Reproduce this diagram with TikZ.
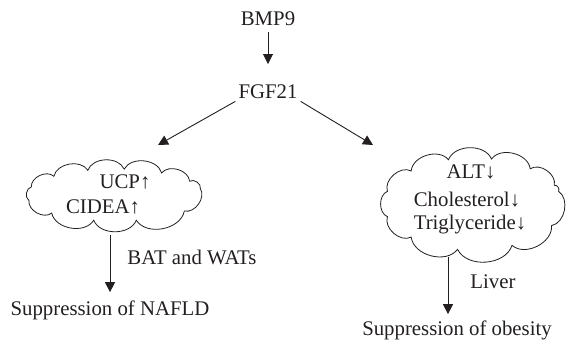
\documentclass[tikz,border=0pt]{standalone}
\usepackage{fontspec}
\setmainfont{Liberation Serif}
\usepackage{tikz}
\usetikzlibrary{arrows.meta, positioning, calc}
\definecolor{ink}{RGB}{35, 31, 32}
% puffy outline: centre, x radius, y radius, cusp angles (first one repeated +360 at the end)
\newcommand{\cloudoutline}[4]{%
  \begin{scope}[shift={#1}]
    \draw[ink, line width=0.8pt]
      \foreach \a [count=\i] in {#4} {
        \ifnum\i=1 (\a:#2 and #3) \else to[bend left=68] (\a:#2 and #3) \fi
      };
  \end{scope}}

\begin{document}
\begin{tikzpicture}[x=1pt, y=-1pt, >={Triangle[length=10pt, width=10pt]},
    txt/.style={ink, anchor=base, inner sep=3pt,
      font=\fontsize{20.8}{24}\selectfont},
    area/.style={inner sep=0pt},
    conn/.style={->, ink, line width=0.9pt}]
  \useasboundingbox (0,0) rectangle (567,343);
  % ── Top chain ──
  \node[txt] (bmp) at (268,25) {BMP9};
  \node[txt] (fgf) at (268,98) {FGF21};
  \draw[conn, shorten <=4pt, shorten >=17pt] (bmp) -- (fgf);
  % ── Branch tips ──
  \coordinate (ltip) at (158,145);
  \coordinate (rtip) at (373,145);
  \draw[conn] (fgf.south west) -- (ltip);
  \draw[conn] (fgf.south east) -- (rtip);
  % ── Left cloud ──
  \node[area, minimum width=185pt, minimum height=66pt] (lcloud) at (115,195) {};
  \cloudoutline{(115,195)}{88}{26}{-14,38,76,104,136,168,198,226,252,276,302,328,346}
  \node[txt] (ucp) at (125,188) {UCP↑};
  \node[txt] (cidea) at (103,213) {CIDEA↑};
  % ── Right cloud ──
  \node[area, minimum width=187pt, minimum height=106pt] (rcloud) at (473,204) {};
  \cloudoutline{(473,204)}{89}{46}{-16,28,64,100,134,164,196,226,254,282,310,336,344}
  \node[txt] (alt) at (471,178) {ALT↓};
  \node[txt] (chol) at (467,206) {Cholesterol↓};
  \node[txt] (tg) at (470,229) {Triglyceride↓};
  % ── Outcomes ──
  \node[txt] (nafld) at (110,315) {Suppression of NAFLD};
  \node[txt] (obesity) at (457,335) {Suppression of obesity};
  \draw[conn, shorten <=7pt, shorten >=5pt] (nafld.north |- lcloud.south) -- (nafld.north)
    node[txt, pos=0.53, anchor=base west, xshift=14pt] (bat) {BAT and WATs};
  \draw[conn, shorten >=3pt] ([xshift=-9pt]obesity.north |- rcloud.south)
    -- ([xshift=-9pt]obesity.north)
    node[txt, pos=0.52, anchor=base west, xshift=19pt] (liver) {Liver};
\end{tikzpicture}
\end{document}
